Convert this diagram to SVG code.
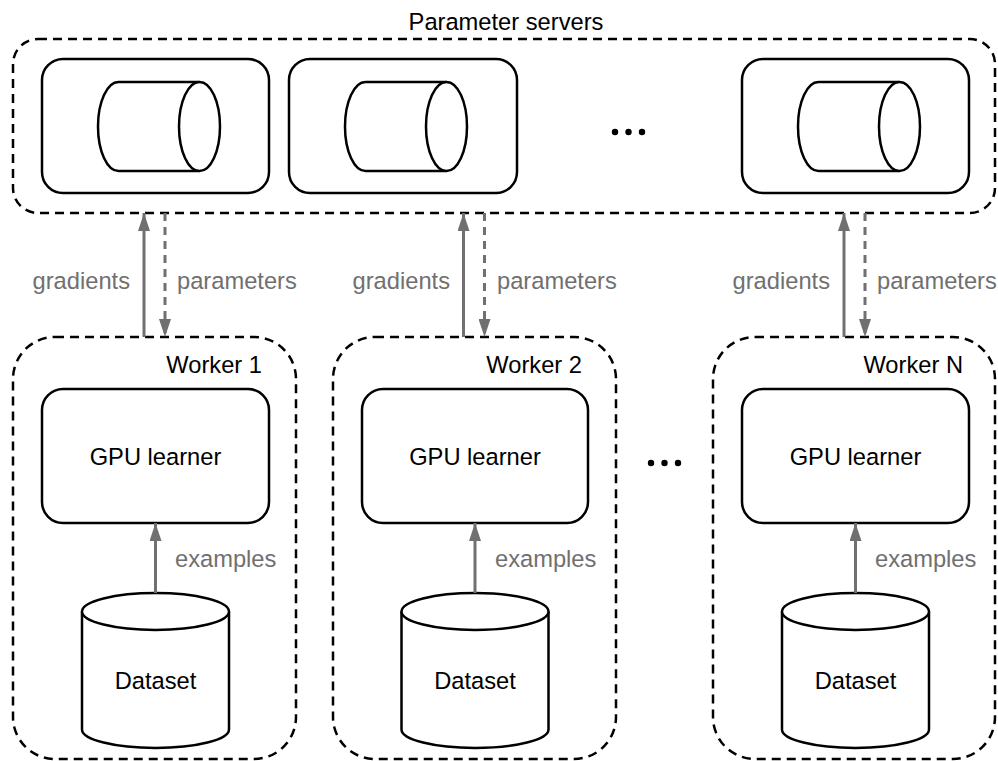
<svg xmlns="http://www.w3.org/2000/svg" width="998" height="761" viewBox="0 0 998 761">
<style>
text{font-family:"Liberation Sans",Arial,sans-serif;font-size:23.7px}
.lbl{fill:#000}
.gray{fill:#707070}
.dbox{fill:none;stroke:#000;stroke-width:2.5;stroke-dasharray:9 6}
.box{fill:#fff;stroke:#000;stroke-width:2.5}
.cyl{fill:#fff;stroke:#000;stroke-width:2.5}
.solid{stroke:#707070;stroke-width:3;fill:none}
.dash{stroke:#707070;stroke-width:3;fill:none;stroke-dasharray:8 6}
</style>
<defs>
<marker id="arr" viewBox="0 0 18 12" refX="18" refY="6" markerWidth="18" markerHeight="12" markerUnits="userSpaceOnUse" orient="auto">
<path d="M0 0 L18 6 L0 12 Z" fill="#707070"/>
</marker>
</defs>

<g id="parameter-servers">
<rect class="dbox" x="13" y="39" width="982" height="174" rx="25"/>
<text class="lbl" x="506" y="30" text-anchor="middle">Parameter servers</text>
</g>
<g id="server-1">
<rect class="box" x="42" y="59" width="227" height="134" rx="21"/>
<path class="cyl" d="M199.5 82 L118.5 82 A20.5 44.5 0 0 0 118.5 171 L199.5 171"/>
<ellipse class="cyl" cx="199.5" cy="126.5" rx="20.5" ry="44.5"/>
</g>
<g id="server-2">
<rect class="box" x="289" y="59" width="228" height="134" rx="21"/>
<path class="cyl" d="M446.5 82 L365.5 82 A20.5 44.5 0 0 0 365.5 171 L446.5 171"/>
<ellipse class="cyl" cx="446.5" cy="126.5" rx="20.5" ry="44.5"/>
</g>
<g id="server-dots">
<circle cx="615" cy="132" r="3.2"/><circle cx="628.5" cy="132" r="3.2"/><circle cx="642" cy="132" r="3.2"/>
</g>
<g id="server-n">
<rect class="box" x="742" y="59" width="227" height="134" rx="21"/>
<path class="cyl" d="M899.5 82 L818.5 82 A20.5 44.5 0 0 0 818.5 171 L899.5 171"/>
<ellipse class="cyl" cx="899.5" cy="126.5" rx="20.5" ry="44.5"/>
</g>

<g id="worker-1">
<rect class="dbox" x="13" y="337" width="283" height="422" rx="42"/>
<text class="lbl" x="262" y="373" text-anchor="end">Worker 1</text>
<g id="gpu-1">
<rect class="box" x="42" y="389" width="227" height="134" rx="21"/>
<text class="lbl" x="155.5" y="465" text-anchor="middle">GPU learner</text>
</g>
<g id="dataset-1">
<path class="cyl" d="M82 611.5 L82 729.5 A73.5 18.5 0 0 0 229 729.5 L229 611.5"/>
<ellipse class="cyl" cx="155.5" cy="611.5" rx="73.5" ry="18.5"/>
<text class="lbl" x="155.5" y="689" text-anchor="middle">Dataset</text>
</g>
</g>

<g id="worker-2">
<rect class="dbox" x="333" y="337" width="283" height="422" rx="42"/>
<text class="lbl" x="582" y="373" text-anchor="end">Worker 2</text>
<g id="gpu-2">
<rect class="box" x="362" y="389" width="226" height="134" rx="21"/>
<text class="lbl" x="475" y="465" text-anchor="middle">GPU learner</text>
</g>
<g id="dataset-2">
<path class="cyl" d="M401.5 611.5 L401.5 729.5 A73.5 18.5 0 0 0 548.5 729.5 L548.5 611.5"/>
<ellipse class="cyl" cx="475" cy="611.5" rx="73.5" ry="18.5"/>
<text class="lbl" x="475" y="689" text-anchor="middle">Dataset</text>
</g>
</g>

<g id="worker-dots">
<circle cx="651" cy="463" r="3.2"/><circle cx="664.5" cy="463" r="3.2"/><circle cx="678" cy="463" r="3.2"/>
</g>

<g id="worker-n">
<rect class="dbox" x="713" y="337" width="282" height="422" rx="42"/>
<text class="lbl" x="963" y="373" text-anchor="end">Worker N</text>
<g id="gpu-n">
<rect class="box" x="742" y="389" width="227" height="134" rx="21"/>
<text class="lbl" x="855.5" y="465" text-anchor="middle">GPU learner</text>
</g>
<g id="dataset-n">
<path class="cyl" d="M782 611.5 L782 729.5 A73.5 18.5 0 0 0 929 729.5 L929 611.5"/>
<ellipse class="cyl" cx="855.5" cy="611.5" rx="73.5" ry="18.5"/>
<text class="lbl" x="855.5" y="689" text-anchor="middle">Dataset</text>
</g>
</g>

<g id="connectors">
<line class="solid" x1="144" y1="337" x2="144" y2="213" marker-end="url(#arr)"/>
<line class="dash" x1="165" y1="213" x2="165" y2="337" marker-end="url(#arr)"/>
<text class="gray" x="130" y="289" text-anchor="end">gradients</text>
<text class="gray" x="177" y="289">parameters</text>
<line class="solid" x1="155.5" y1="593" x2="155.5" y2="523" marker-end="url(#arr)"/>
<text class="gray" x="175" y="567">examples</text>

<line class="solid" x1="463.5" y1="337" x2="463.5" y2="213" marker-end="url(#arr)"/>
<line class="dash" x1="484.5" y1="213" x2="484.5" y2="337" marker-end="url(#arr)"/>
<text class="gray" x="450" y="289" text-anchor="end">gradients</text>
<text class="gray" x="497" y="289">parameters</text>
<line class="solid" x1="475" y1="593" x2="475" y2="523" marker-end="url(#arr)"/>
<text class="gray" x="495" y="567">examples</text>

<line class="solid" x1="844" y1="337" x2="844" y2="213" marker-end="url(#arr)"/>
<line class="dash" x1="865" y1="213" x2="865" y2="337" marker-end="url(#arr)"/>
<text class="gray" x="830" y="289" text-anchor="end">gradients</text>
<text class="gray" x="877" y="289">parameters</text>
<line class="solid" x1="855.5" y1="593" x2="855.5" y2="523" marker-end="url(#arr)"/>
<text class="gray" x="875" y="567">examples</text>
</g>
</svg>
